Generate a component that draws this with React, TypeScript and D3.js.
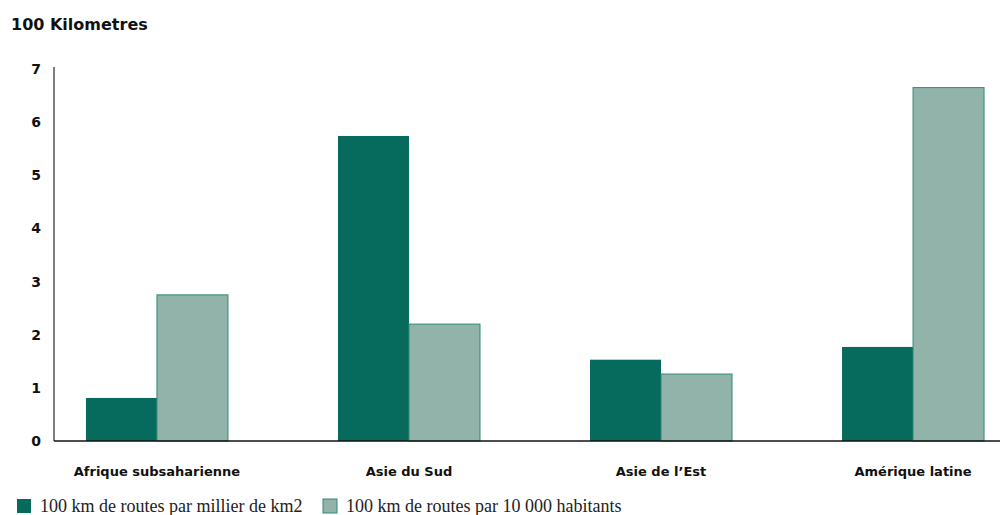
import React, { useEffect, useRef } from "react";
import * as d3 from "d3";

const categories = ["Afrique subsaharienne", "Asie du Sud", "Asie de l\u2019Est", "Amérique latine"];
const seriesNames = ["100 km de routes par millier de km2", "100 km de routes par 10 000 habitants"];
const perArea = [0.81, 5.74, 1.53, 1.77];
const perPeople = [2.75, 2.2, 1.26, 6.65];
const yTicks = [0, 1, 2, 3, 4, 5, 6, 7];

const colors = ["#066a5c", "#92b3aa"];

const App = () => {
    const ref = useRef<HTMLDivElement>(null);

    useEffect(() => {
        const width = 1001;
        const height = 515;
        const margin = { top: 69, left: 54, right: 1, bottom: 74 };
        const sans = "'DejaVu Sans', Arial, sans-serif";

        d3.select(ref.current).select("svg").remove();

        const svg = d3
            .select(ref.current)
            .append("svg")
            .attr("width", width)
            .attr("height", height)
            .style("display", "block");

        const data = categories.map((c, i) => ({ cat: c, values: [perArea[i], perPeople[i]] }));

        const x0 = d3
            .scaleBand()
            .domain(categories)
            .range([margin.left, width - margin.right])
            .paddingInner(0.4365)
            .paddingOuter(0.095)
            .align(0.667);

        const x1 = d3.scaleBand().domain(["0", "1"]).range([0, x0.bandwidth()]);

        const y = d3
            .scaleLinear()
            .domain([0, 7])
            .range([height - margin.bottom, margin.top]);

        // title
        svg.append("text")
            .attr("x", 11)
            .attr("y", 30)
            .attr("font-family", sans)
            .attr("font-weight", "bold")
            .attr("font-size", 16)
            .attr("fill", "#111")
            .text("100 Kilometres");

        // y tick labels
        svg.append("g")
            .selectAll("text")
            .data(yTicks)
            .enter()
            .append("text")
            .attr("x", 41)
            .attr("y", (d) => y(d) + 5)
            .attr("text-anchor", "end")
            .attr("font-family", sans)
            .attr("font-weight", "bold")
            .attr("font-size", 14)
            .attr("fill", "#111")
            .text((d) => d);

        // bars
        const groups = svg.append("g")
            .selectAll("g")
            .data(data)
            .enter()
            .append("g")
            .attr("transform", (d) => `translate(${x0(d.cat)},0)`);

        groups.selectAll("rect")
            .data((d) => d.values.map((v, k) => ({ k, v })))
            .enter()
            .append("rect")
            .attr("x", (d) => x1(String(d.k))!)
            .attr("y", (d) => y(d.v))
            .attr("width", x1.bandwidth())
            .attr("height", (d) => y(0) - y(d.v))
            .attr("fill", (d) => colors[d.k])
            .attr("stroke", (d) => (d.k === 1 ? "#2e8a78" : "none"))
            .attr("stroke-width", 1);

        // axes lines
        svg.append("line")
            .attr("x1", margin.left)
            .attr("x2", margin.left)
            .attr("y1", y(7) - 2)
            .attr("y2", y(0))
            .attr("stroke", "#555")
            .attr("stroke-width", 1.5);

        svg.append("line")
            .attr("x1", margin.left)
            .attr("x2", width - margin.right)
            .attr("y1", y(0))
            .attr("y2", y(0))
            .attr("stroke", "#111")
            .attr("stroke-width", 1.5);

        // category labels
        svg.append("g")
            .selectAll("text")
            .data(categories)
            .enter()
            .append("text")
            .attr("x", (d) => x0(d)! + x0.bandwidth() / 2)
            .attr("y", 476)
            .attr("text-anchor", "middle")
            .attr("font-family", sans)
            .attr("font-weight", "bold")
            .attr("font-size", 13)
            .attr("fill", "#111")
            .text((d) => d);

        // legend
        const legendX = [17, 323];
        const legend = svg.append("g")
            .selectAll("g")
            .data(seriesNames)
            .enter()
            .append("g")
            .attr("transform", (d, i) => `translate(${legendX[i]},499)`);

        legend.append("rect")
            .attr("width", 14)
            .attr("height", 14)
            .attr("fill", (d, i) => colors[i])
            .attr("stroke", (d, i) => (i === 1 ? "#2e8a78" : "none"));

        legend.append("text")
            .attr("x", 23)
            .attr("y", 13)
            .attr("font-family", "'Liberation Serif', serif")
            .attr("font-size", 18)
            .attr("fill", "#222")
            .text((d) => d);
    }, []);

    return <div ref={ref} style={{ position: "absolute", left: 0, top: 0 }}></div>;
};

export default App;
